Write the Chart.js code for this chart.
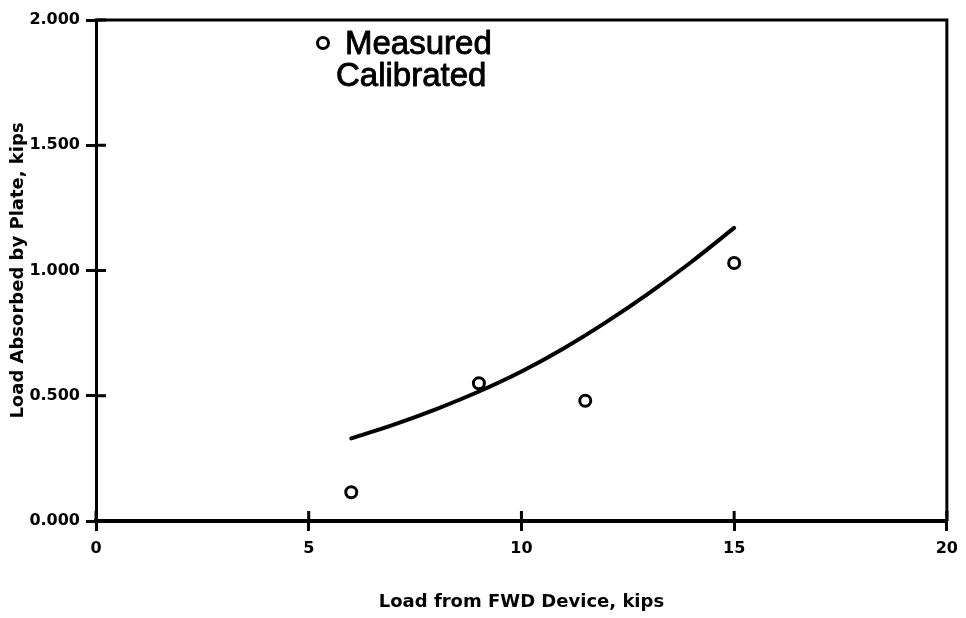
<!DOCTYPE html>
<html>
<head>
<meta charset="utf-8">
<title>Load Absorbed by Plate vs Load from FWD Device</title>
<script src="https://cdn.jsdelivr.net/npm/chart.js@4/dist/chart.umd.min.js"></script>
<style>
  html, body { margin: 0; padding: 0; background: #fff; }
  #wrap { width: 966px; height: 618px; position: relative; }
</style>
</head>
<body>
<div id="wrap"><canvas id="chart" width="966" height="618"></canvas></div>
<script>
// Measured plate loads (kips) against FWD load (kips)
const measuredLoad = [6, 9, 11.5, 15];
const measuredAbsorbed = [0.115, 0.55, 0.48, 1.03];

// Calibrated curve, sampled at each kip of FWD load
const calibratedLoad = [6, 7, 8, 9, 10, 11, 12, 13, 14, 15];
const calibratedAbsorbed = [0.33, 0.385, 0.447, 0.517, 0.597, 0.69, 0.795, 0.91, 1.035, 1.17];

// Axis ticks
const xTicks = [0, 5, 10, 15, 20];
const yTicks = [0, 0.5, 1.0, 1.5, 2.0];

const seriesLabels = ['Measured', 'Calibrated'];
const axisTitles = { x: 'Load from FWD Device, kips', y: 'Load Absorbed by Plate, kips' };

const toXY = (xs, ys) => xs.map((x, i) => ({ x: x, y: ys[i] }));

const tickFont = { family: 'DejaVu Sans', weight: 'bold', size: 16 };
const titleFont = { family: 'DejaVu Sans', weight: 'bold', size: 18 };
const INNER_TICK = 10;

// Frame on top/right and the inward half of each crossing tick mark
const framePlugin = {
  id: 'frame',
  afterDatasetsDraw(chart) {
    const { ctx, chartArea: a, scales: { x, y } } = chart;
    ctx.save();
    ctx.strokeStyle = '#000';
    ctx.lineWidth = 3;
    ctx.lineCap = 'butt';
    ctx.beginPath();
    ctx.moveTo(a.left - 1.5, a.top);
    ctx.lineTo(a.right, a.top);
    ctx.lineTo(a.right, a.bottom);
    ctx.stroke();
    ctx.beginPath();
    xTicks.forEach(v => {
      const px = x.getPixelForValue(v);
      ctx.moveTo(px, a.bottom);
      ctx.lineTo(px, a.bottom - INNER_TICK);
    });
    yTicks.forEach(v => {
      const py = y.getPixelForValue(v);
      ctx.moveTo(a.left, py);
      ctx.lineTo(a.left + INNER_TICK, py);
    });
    ctx.stroke();
    ctx.restore();
  }
};

// Two-line key in the upper part of the plot
const keyPlugin = {
  id: 'key',
  afterDraw(chart) {
    const { ctx } = chart;
    const ds = chart.data.datasets;
    ctx.save();
    // marker for the measured series
    ctx.beginPath();
    ctx.arc(323, 43, 5.5, 0, Math.PI * 2);
    ctx.lineWidth = 3;
    ctx.strokeStyle = '#000';
    ctx.fillStyle = '#fff';
    ctx.fill();
    ctx.stroke();
    ctx.fillStyle = '#000';
    ctx.font = '33px "Liberation Sans", Arial, sans-serif';
    ctx.textBaseline = 'alphabetic';
    ctx.textAlign = 'left';
    ctx.lineWidth = 0.9;
    ctx.lineJoin = 'round';
    [[ds[0].label, 345, 54], [ds[1].label, 336, 86]].forEach(([t, tx, ty]) => {
      ctx.fillText(t, tx, ty);
      ctx.strokeText(t, tx, ty);
    });
    ctx.restore();
  }
};

new Chart(document.getElementById('chart'), {
  type: 'scatter',
  data: {
    datasets: [
      {
        label: seriesLabels[0],
        data: toXY(measuredLoad, measuredAbsorbed),
        pointStyle: 'circle',
        pointRadius: 5.5,
        pointBorderWidth: 3,
        pointBackgroundColor: '#fff',
        pointBorderColor: '#000',
        showLine: false
      },
      {
        label: seriesLabels[1],
        type: 'line',
        data: toXY(calibratedLoad, calibratedAbsorbed),
        borderColor: '#000',
        borderWidth: 4,
        borderCapStyle: 'round',
        pointRadius: 0,
        fill: false,
        tension: 0.4
      }
    ]
  },
  options: {
    responsive: false,
    animation: false,
    layout: { padding: { left: 0, top: 20, right: 15, bottom: 0 } },
    plugins: {
      legend: { display: false },
      tooltip: { enabled: false }
    },
    scales: {
      x: {
        type: 'linear',
        min: xTicks[0],
        max: xTicks[xTicks.length - 1],
        afterBuildTicks: s => { s.ticks = xTicks.map(v => ({ value: v })); },
        afterFit: s => { s.height = 97; },
        ticks: { color: '#000', font: tickFont, padding: 8, maxRotation: 0, callback: v => String(v) },
        grid: { drawOnChartArea: false, drawTicks: true, tickLength: 10, color: '#000', lineWidth: 3 },
        border: { display: true, color: '#000', width: 4 },
        title: { display: true, text: axisTitles.x, color: '#000', font: titleFont, padding: { top: 0, bottom: 5 } }
      },
      y: {
        type: 'linear',
        min: yTicks[0],
        max: yTicks[yTicks.length - 1],
        afterBuildTicks: s => { s.ticks = yTicks.map(v => ({ value: v })); },
        afterFit: s => { s.width = 96; },
        ticks: { color: '#000', font: tickFont, padding: 6, callback: v => Number(v).toFixed(3) },
        grid: { drawOnChartArea: false, drawTicks: true, tickLength: 10, color: '#000', lineWidth: 3 },
        border: { display: true, color: '#000', width: 3 },
        title: { display: true, text: axisTitles.y, color: '#000', font: titleFont, padding: { top: 8, bottom: 0 } }
      }
    }
  },
  plugins: [framePlugin, keyPlugin]
});
</script>
</body>
</html>
